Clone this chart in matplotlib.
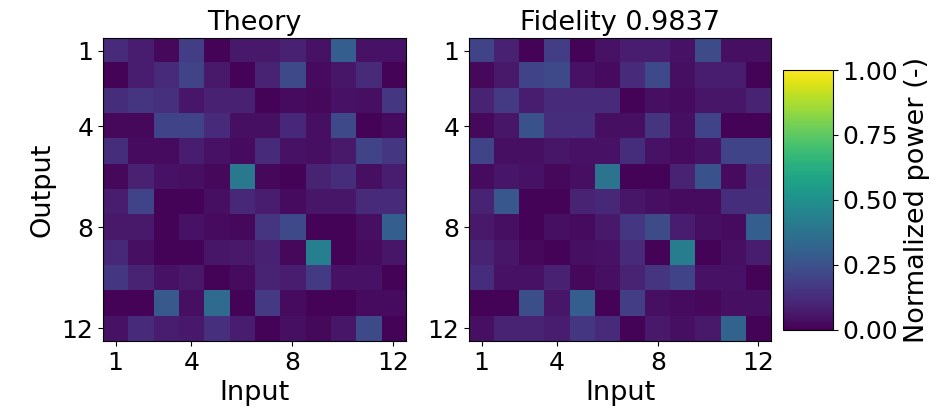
import numpy as np
import matplotlib
matplotlib.use("Agg")
import matplotlib.pyplot as plt

# normalized power, rows = output 1..12, cols = input 1..12
theory = np.array([
    [0.12, 0.08, 0.02, 0.18, 0.01, 0.07, 0.07, 0.09, 0.05, 0.30, 0.05, 0.05],
    [0.01, 0.08, 0.12, 0.20, 0.07, 0.01, 0.10, 0.22, 0.03, 0.06, 0.12, 0.01],
    [0.13, 0.15, 0.14, 0.06, 0.09, 0.09, 0.01, 0.03, 0.02, 0.05, 0.04, 0.16],
    [0.02, 0.02, 0.20, 0.20, 0.12, 0.04, 0.04, 0.11, 0.04, 0.22, 0.01, 0.03],
    [0.13, 0.03, 0.03, 0.08, 0.05, 0.03, 0.12, 0.05, 0.04, 0.07, 0.20, 0.16],
    [0.02, 0.09, 0.05, 0.04, 0.02, 0.40, 0.02, 0.01, 0.10, 0.13, 0.04, 0.08],
    [0.08, 0.20, 0.01, 0.01, 0.04, 0.11, 0.08, 0.03, 0.06, 0.06, 0.12, 0.12],
    [0.07, 0.07, 0.01, 0.05, 0.03, 0.02, 0.15, 0.22, 0.01, 0.01, 0.04, 0.30],
    [0.11, 0.04, 0.01, 0.01, 0.06, 0.07, 0.09, 0.02, 0.43, 0.01, 0.03, 0.06],
    [0.16, 0.10, 0.05, 0.07, 0.01, 0.03, 0.10, 0.08, 0.17, 0.05, 0.05, 0.01],
    [0.01, 0.01, 0.28, 0.04, 0.35, 0.01, 0.17, 0.03, 0.01, 0.01, 0.03, 0.03],
    [0.05, 0.12, 0.08, 0.07, 0.14, 0.08, 0.01, 0.04, 0.02, 0.06, 0.22, 0.01],
])

measured = np.array([
    [0.20, 0.09, 0.01, 0.18, 0.01, 0.05, 0.08, 0.08, 0.05, 0.23, 0.04, 0.04],
    [0.02, 0.07, 0.20, 0.22, 0.05, 0.03, 0.12, 0.22, 0.04, 0.08, 0.08, 0.01],
    [0.10, 0.17, 0.08, 0.12, 0.12, 0.12, 0.01, 0.04, 0.03, 0.06, 0.06, 0.10],
    [0.02, 0.06, 0.25, 0.13, 0.13, 0.04, 0.04, 0.15, 0.04, 0.20, 0.01, 0.01],
    [0.20, 0.04, 0.04, 0.06, 0.05, 0.05, 0.13, 0.05, 0.03, 0.05, 0.20, 0.20],
    [0.03, 0.06, 0.05, 0.02, 0.04, 0.38, 0.01, 0.01, 0.10, 0.25, 0.03, 0.12],
    [0.10, 0.27, 0.01, 0.01, 0.10, 0.11, 0.06, 0.04, 0.03, 0.03, 0.13, 0.13],
    [0.07, 0.04, 0.01, 0.04, 0.03, 0.07, 0.16, 0.23, 0.08, 0.04, 0.03, 0.30],
    [0.10, 0.06, 0.02, 0.01, 0.04, 0.05, 0.12, 0.01, 0.42, 0.01, 0.04, 0.08],
    [0.13, 0.05, 0.05, 0.09, 0.02, 0.04, 0.10, 0.15, 0.20, 0.05, 0.05, 0.01],
    [0.01, 0.01, 0.24, 0.06, 0.30, 0.01, 0.18, 0.04, 0.03, 0.02, 0.04, 0.04],
    [0.04, 0.10, 0.10, 0.08, 0.16, 0.12, 0.01, 0.07, 0.04, 0.07, 0.32, 0.01],
])

fidelity = 0.9837
tick_labels = [1, 4, 8, 12]

plt.rcParams['font.size'] = 18
label_size = 19.5

fig = plt.figure(figsize=(9.39, 4.13), dpi=100)
ax1 = fig.add_axes([0.1097, 0.1743, 0.3227, 0.7337])
ax2 = fig.add_axes([0.4995, 0.1743, 0.3216, 0.7337])
cax = fig.add_axes([0.8339, 0.2010, 0.0532, 0.6295])

for ax, data, title in [(ax1, theory, "Theory"), (ax2, measured, "Fidelity %.4f" % fidelity)]:
    im = ax.imshow(data, cmap="viridis", vmin=0, vmax=1, aspect="auto")
    ax.set_xticks([t - 1 for t in tick_labels])
    ax.set_xticklabels(tick_labels)
    ax.set_yticks([t - 1 for t in tick_labels])
    ax.set_yticklabels(tick_labels)
    ax.set_title(title, fontsize=label_size)
    ax.set_xlabel("Input", fontsize=label_size)

ax1.set_ylabel("Output", fontsize=label_size)

cb = fig.colorbar(im, cax=cax, ticks=[0, 0.25, 0.5, 0.75, 1.0])
cb.ax.set_yticklabels(["0.00", "0.25", "0.50", "0.75", "1.00"])
cb.set_label("Normalized power (-)", fontsize=label_size)

fig.savefig("out.png", dpi=100)
